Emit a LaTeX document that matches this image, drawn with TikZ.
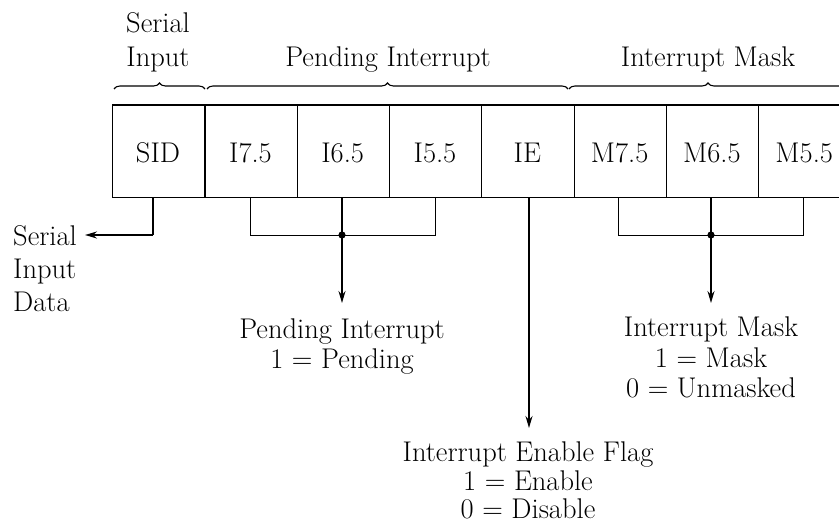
\documentclass[tikz,border=0pt]{standalone}
\usetikzlibrary{arrows.meta,decorations.pathreplacing}
\begin{document}
\begin{tikzpicture}[x=1pt,y=-1pt,
  lbl/.style={font=\fontsize{28.5}{32}\selectfont, inner sep=0pt, anchor=base},
  regbox/.style={draw, line width=1.2pt, minimum width=92.3pt, minimum height=92pt, inner sep=0pt, anchor=north west},
  thin/.style={line width=0.9pt},
  thick/.style={line width=1.8pt},
  arr/.style={line width=1.8pt, -{Stealth[length=12pt,width=7pt,inset=4pt]}},
  brc/.style={line width=1.1pt, decorate, decoration={brace, amplitude=6pt}}]
\clip (0,0) rectangle (839,527);
% register boxes
\node[regbox] (b0) at (112,104.5) {};
\node[regbox] (b1) at (204.3,104.5) {};
\node[regbox] (b2) at (296.6,104.5) {};
\node[regbox] (b3) at (388.9,104.5) {};
\node[regbox] (b4) at (481.2,104.5) {};
\node[regbox] (b5) at (573.5,104.5) {};
\node[regbox] (b6) at (665.8,104.5) {};
\node[regbox] (b7) at (758.1,104.5) {};
% box texts
\node[lbl] (t0) at (158,162) {SID};
\node[lbl] (t1) at (250.5,162) {I7.5};
\node[lbl] (t2) at (342.7,162) {I6.5};
\node[lbl] (t3) at (435,162) {I5.5};
\node[lbl] (t4) at (527.3,162) {IE};
\node[lbl] (t5) at (619.6,162) {M7.5};
\node[lbl] (t6) at (711.9,162) {M6.5};
\node[lbl] (t7) at (804.2,162) {M5.5};
% top labels and braces
\node[lbl] (s1) at (158,33) {Serial};
\node[lbl] (s2) at (158,67) {Input};
\node[lbl] (pi) at (388,67) {Pending Interrupt};
\node[lbl] (im) at (708,67) {Interrupt Mask};
\draw[brc] (114,89) -- (205,89);
\draw[brc] (207,89) -- (568,89);
\draw[brc] (569,89) -- (847,89);
% coordinates for connectors
\coordinate (sidc) at (153,235);
\coordinate (sidend) at (85,235);
\coordinate (pl) at (250,235);
\coordinate (pr) at (435,235);
\coordinate (pd) at (342,235);
\coordinate (pend) at (342,303);
\coordinate (ml) at (618,235);
\coordinate (mr) at (803,235);
\coordinate (md) at (711,235);
\coordinate (mend) at (711,303);
\coordinate (ieend) at (529,428);
% SID connector
\draw[thick] (b0.south -| sidc) -- (sidc);
\draw[arr] (sidc) -- (sidend);
% Pending connector
\draw[thin] (b1.south -| pl) -- (pl) -- (pr) -- (b3.south -| pr);
\draw[arr] (b2.south -| pd) -- (pend);
\fill (pd) circle (3.6pt);
% IE connector
\draw[arr] (b4.south -| ieend) -- (ieend);
% Mask connector
\draw[thin] (b5.south -| ml) -- (ml) -- (mr) -- (b7.south -| mr);
\draw[arr] (b6.south -| md) -- (mend);
\fill (md) circle (3.6pt);
% bottom labels
\node[lbl, anchor=base west] (sd1) at (13,245) {Serial};
\node[lbl, anchor=base west] (sd2) at (13,278) {Input};
\node[lbl, anchor=base west] (sd3) at (13,311) {Data};
\node[lbl] (pl1) at (342,338) {Pending Interrupt};
\node[lbl] (pl2) at (342,368) {1 = Pending};
\node[lbl] (ml1) at (711,336) {Interrupt Mask};
\node[lbl] (ml2) at (711,367) {1 = Mask};
\node[lbl] (ml3) at (711,397) {0 = Unmasked};
\node[lbl] (ie1) at (528,461) {Interrupt Enable Flag};
\node[lbl] (ie2) at (528,490) {1 = Enable};
\node[lbl] (ie3) at (528,518) {0 = Disable};
\end{tikzpicture}
\end{document}
